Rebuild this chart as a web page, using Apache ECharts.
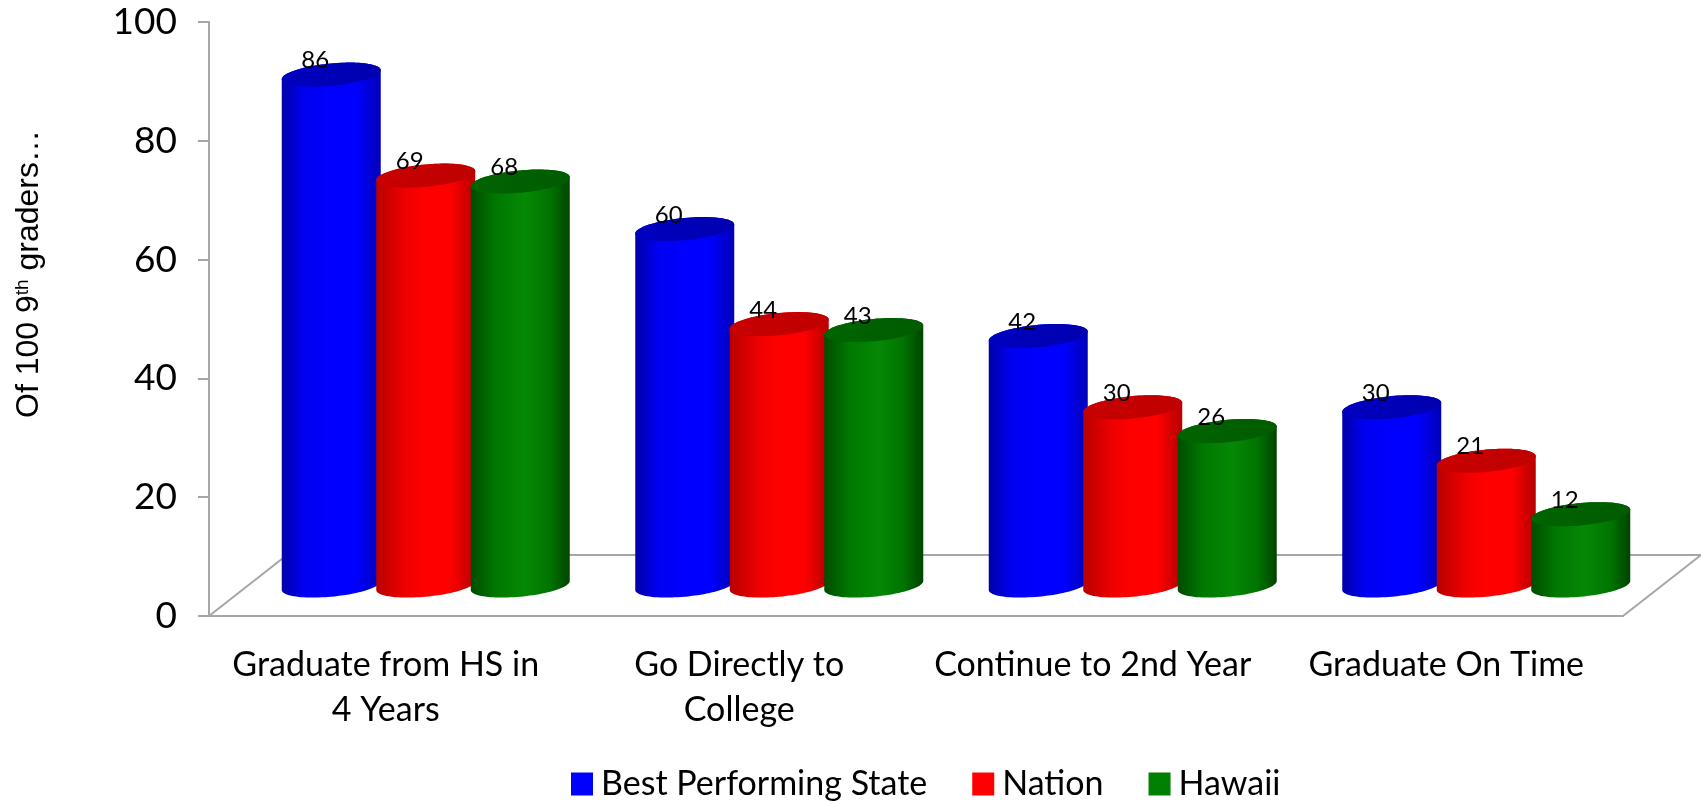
<!DOCTYPE html>
<html><head><meta charset="utf-8">
<style>html,body{margin:0;padding:0;background:#fff}#c{width:1701px;height:801px}</style>
<script src="https://cdn.jsdelivr.net/npm/echarts@6/dist/echarts.min.js"></script>
</head><body><div id="c"></div>
<script>
const categories = ['Graduate from HS in\n4 Years', 'Go Directly to\nCollege', 'Continue to 2nd Year', 'Graduate On Time'];
const bestState = [86, 60, 42, 30];
const nation = [69, 44, 30, 21];
const hawaii = [68, 43, 26, 12];
const yTicks = [0, 20, 40, 60, 80, 100];

const FONT = 'Lato';
const AXIS = '#a6a6a6';
const DEPTH_X = 78, DEPTH_Y = 61, R = 49.5, TILT = 4.5, B = 11.2;

function grad(stops){
  return {type:'linear',x:0,y:0,x2:1,y2:0,colorStops:stops.map(s=>({offset:s[0],color:s[1]}))};
}
function cylinder(slot, side, top){
  return function(params, api){
    const i = api.value(0), v = api.value(1);
    const p = api.coord([i, v]), p0 = api.coord([i, 0]);
    const cx = p[0] + DEPTH_X/2 + slot*94.5 + 1;
    const ty = p[1] - DEPTH_Y/2, by = p0[1] - DEPTH_Y/2;
    const ell = (cy, t) => [cx + R*Math.cos(t), cy + B*Math.sin(t) - TILT*Math.cos(t)];
    const sidePts = [], topPts = [];
    for (let k=0;k<=48;k++){ sidePts.push(ell(by, Math.PI*k/48)); }
    for (let k=0;k<=48;k++){ sidePts.push(ell(ty, Math.PI + Math.PI*k/48)); }
    for (let k=0;k<96;k++){ topPts.push(ell(ty, 2*Math.PI*k/96)); }
    return {type:'group',children:[
      {type:'polygon',shape:{points:sidePts},style:{fill:grad(side)}},
      {type:'polygon',shape:{points:topPts},style:{fill:grad(top)}},
      {type:'text',z2:10,style:{text:String(v),x:cx-16,y:ty-14,align:'center',verticalAlign:'middle',font:'24px '+FONT,fill:'#000'}}
    ]};
  };
}
function floor(params, api){
  const g = params.coordSys;
  const x0=g.x, x1=g.x+g.width, y=g.y+g.height, by=y-DEPTH_Y;
  const st={stroke:AXIS,lineWidth:2,fill:null};
  return {type:'polyline',shape:{points:[[x0,y],[x0+DEPTH_X,by],[x1+DEPTH_X,by],[x1,y]]},style:st};
}
const blueSide=[[0,'#0000a8'],[0.22,'#0000f0'],[0.5,'#0000ff'],[0.75,'#0000ff'],[1,'#0000b8']];
const redSide=[[0,'#b80000'],[0.3,'#f00000'],[0.5,'#ff0000'],[0.75,'#ff0000'],[1,'#b40000']];
const greenSide=[[0,'#004c00'],[0.25,'#007800'],[0.55,'#058805'],[0.8,'#007400'],[1,'#004400']];
const blueTop=[[0,'#0000c0'],[1,'#0000b0']];
const redTop=[[0,'#c80000'],[1,'#c00000']];
const greenTop=[[0,'#006400'],[1,'#005c00']];
const rows=a=>a.map((v,i)=>[i,v]);

const chart=echarts.init(document.getElementById('c'),null,{renderer:'canvas'});
chart.setOption({
  backgroundColor:'#fff',
  animation:false,
  grid:{left:209,right:78,top:22,bottom:185,containLabel:false},
  legend:{left:566,top:762,icon:'rect',itemWidth:22,itemHeight:23,itemGap:45,
    textStyle:{fontFamily:FONT,fontSize:34,color:'#000',padding:[0,0,0,3]},
    data:['Best Performing State','Nation','Hawaii']},
  xAxis:{type:'category',data:categories,
    axisLine:{show:true,lineStyle:{color:AXIS,width:2}},axisTick:{show:false},
    axisLabel:{interval:0,margin:27,fontFamily:FONT,fontSize:34,lineHeight:45,color:'#000'}},
  yAxis:{type:'value',min:0,max:100,interval:20,
    name:'Of 100 9{sup|th} graders…',nameLocation:'middle',nameRotate:90,nameGap:164,
    nameTextStyle:{fontFamily:'Liberation Sans',fontSize:32,color:'#000',padding:[0,0,0,90],
      rich:{sup:{fontFamily:'Liberation Sans',fontSize:19,verticalAlign:'top',color:'#000'}}},
    axisLine:{show:true,lineStyle:{color:AXIS,width:2}},
    axisTick:{show:true,length:11,lineStyle:{color:AXIS,width:2}},
    splitLine:{show:false},
    axisLabel:{margin:32,fontFamily:FONT,fontSize:37,color:'#000',padding:[4,0,0,0],
      customValues:yTicks}},
  series:[
    {type:'custom',name:'floor',silent:true,renderItem:floor,data:[[0,0]],encode:{x:0,y:1},z:1,clip:false},
    {type:'custom',name:'Best Performing State',renderItem:cylinder(-1,blueSide,blueTop),data:rows(bestState),encode:{x:0,y:1},itemStyle:{color:'#0000ff'},z:2,clip:false},
    {type:'custom',name:'Nation',renderItem:cylinder(0,redSide,redTop),data:rows(nation),encode:{x:0,y:1},itemStyle:{color:'#ff0000'},z:3,clip:false},
    {type:'custom',name:'Hawaii',renderItem:cylinder(1,greenSide,greenTop),data:rows(hawaii),encode:{x:0,y:1},itemStyle:{color:'#008000'},z:4,clip:false}
  ]
});
</script></body></html>
